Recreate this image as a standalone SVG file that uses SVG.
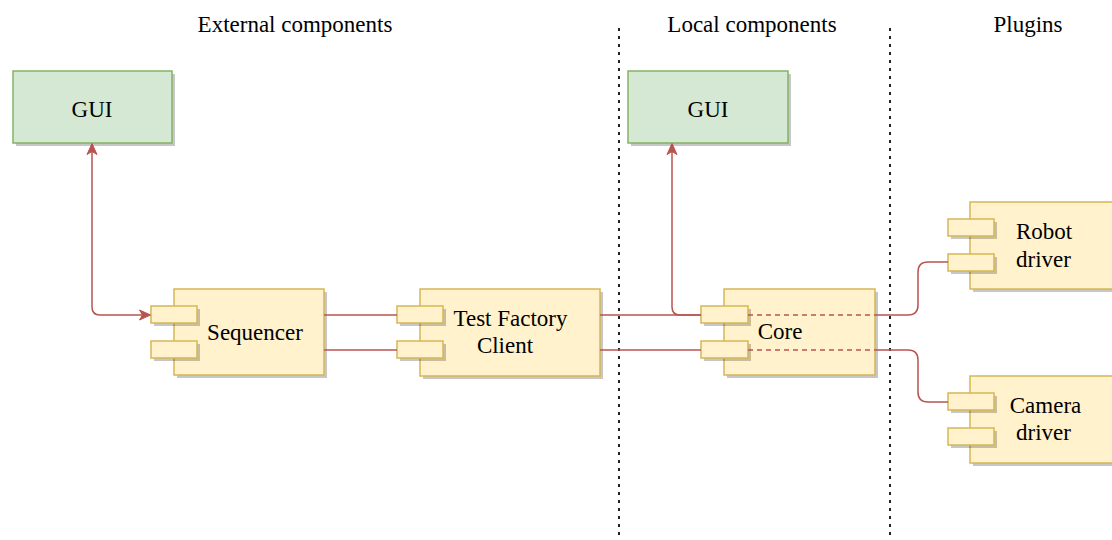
<svg xmlns="http://www.w3.org/2000/svg" width="1112" height="540" viewBox="0 0 1112 540">
<style>
text{font-family:'Liberation Serif','Times New Roman',serif;font-size:23px;fill:#000;text-anchor:middle}
.green{fill:#d5e8d4;stroke:#82b366;stroke-width:1.5}
.yel{fill:#fff2cc;stroke:#d6b656;stroke-width:1.5}
.sh{fill:#000;fill-opacity:0.22}
.edge{fill:none;stroke:#b85450;stroke-width:1.5}
.dash{stroke-dasharray:5 4}
.sep{stroke:#222;stroke-width:2;stroke-dasharray:3 5;fill:none}
</style>
<defs>
<marker id="arr" viewBox="0 0 12 12" refX="11" refY="6" markerWidth="12" markerHeight="12" markerUnits="userSpaceOnUse" orient="auto-start-reverse">
<path d="M0.5,1 L11.5,6 L0.5,11 L3.5,6 Z" fill="#b85450" stroke="#b85450" stroke-width="1" stroke-linejoin="miter"/>
</marker>
</defs>
<rect width="1112" height="540" fill="#fff"/>
<g id="titles">
<text x="295" y="32">External components</text>
<text x="752" y="32">Local components</text>
<text x="1028" y="32">Plugins</text>
</g>
<g id="separators">
<line class="sep" x1="619" y1="28" x2="619" y2="537"/>
<line class="sep" x1="890" y1="28" x2="890" y2="537"/>
</g>
<g id="gui-external">
<rect class="sh" x="16" y="74" width="159" height="72"/>
<rect class="green" x="13" y="71" width="159" height="72"/>
<text x="92" y="117">GUI</text>
</g>
<g id="gui-local">
<rect class="sh" x="631" y="74" width="160" height="72"/>
<rect class="green" x="628" y="71" width="160" height="72"/>
<text x="708" y="117">GUI</text>
</g>
<g id="sequencer">
<rect class="sh" x="177" y="292" width="150" height="86"/>
<rect class="yel" x="174" y="289" width="150" height="86"/>
<rect class="sh" x="154" y="309" width="46" height="17"/>
<rect class="yel" x="151" y="306" width="46" height="17"/>
<rect class="sh" x="154" y="344" width="46" height="17"/>
<rect class="yel" x="151" y="341" width="46" height="17"/>
<text x="255" y="340">Sequencer</text>
</g>
<g id="test-factory-client">
<rect class="sh" x="423" y="292" width="180" height="87"/>
<rect class="yel" x="420" y="289" width="180" height="87"/>
<rect class="sh" x="400" y="309" width="46" height="17"/>
<rect class="yel" x="397" y="306" width="46" height="17"/>
<rect class="sh" x="400" y="344" width="46" height="17"/>
<rect class="yel" x="397" y="341" width="46" height="17"/>
<text x="510.5" y="326">Test Factory</text>
<text x="505" y="353">Client</text>
</g>
<g id="core">
<rect class="sh" x="727" y="292" width="151" height="86"/>
<rect class="yel" x="724" y="289" width="151" height="86"/>
<rect class="sh" x="704" y="309" width="47" height="17"/>
<rect class="yel" x="701" y="306" width="47" height="17"/>
<rect class="sh" x="704" y="344" width="47" height="17"/>
<rect class="yel" x="701" y="341" width="47" height="17"/>
<text x="780" y="339">Core</text>
</g>
<g id="robot-driver">
<rect class="sh" x="973" y="205" width="150" height="87"/>
<rect class="yel" x="970" y="202" width="150" height="87"/>
<rect class="sh" x="951" y="222" width="46" height="17"/>
<rect class="yel" x="948" y="219" width="46" height="17"/>
<rect class="sh" x="951" y="257" width="46" height="17"/>
<rect class="yel" x="948" y="254" width="46" height="17"/>
<text x="1044" y="239">Robot</text>
<text x="1043.5" y="267">driver</text>
</g>
<g id="camera-driver">
<rect class="sh" x="973" y="379" width="150" height="87"/>
<rect class="yel" x="970" y="376" width="150" height="87"/>
<rect class="sh" x="951" y="396" width="46" height="17"/>
<rect class="yel" x="948" y="393" width="46" height="17"/>
<rect class="sh" x="951" y="431" width="46" height="17"/>
<rect class="yel" x="948" y="428" width="46" height="17"/>
<text x="1045.5" y="413">Camera</text>
<text x="1043.5" y="440">driver</text>
</g>
<g id="connectors">
<path class="edge" d="M92,144 L92,307 Q92,315 100,315 L150,315" marker-start="url(#arr)" marker-end="url(#arr)"/>
<path class="edge" d="M324,315 L397,315"/>
<path class="edge" d="M324,350 L397,350"/>
<path class="edge" d="M600,315 L701,315"/>
<path class="edge" d="M600,350 L701,350"/>
<path class="edge" d="M701,315 L680,315 Q672,315 672,307 L672,144" marker-end="url(#arr)"/>
<path class="edge dash" d="M748,315 L875,315"/>
<path class="edge dash" d="M748,350 L875,350"/>
<path class="edge" d="M875,315 L908,315 Q918,315 918,305 L918,272 Q918,262 928,262 L948,262"/>
<path class="edge" d="M875,350 L908,350 Q918,350 918,360 L918,392 Q918,402 928,402 L948,402"/>
</g>
</svg>
